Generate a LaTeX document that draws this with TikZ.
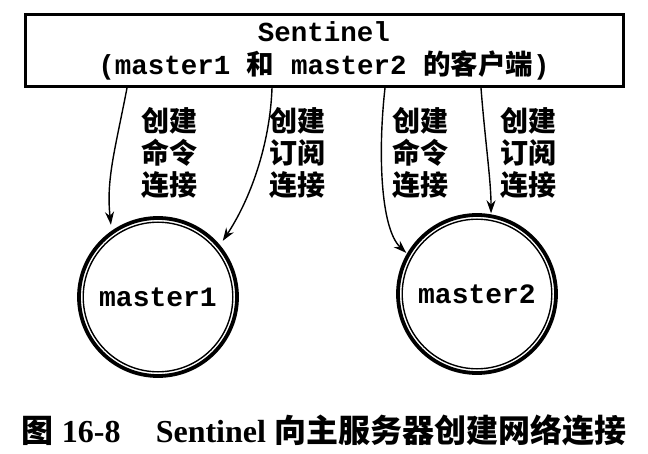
\documentclass[tikz,border=0pt]{standalone}
\usepackage{fontspec}
\setmainfont{Liberation Serif}
\setmonofont{Liberation Mono}
\newfontfamily\cjk{Noto Sans CJK SC}
\usetikzlibrary{arrows.meta}
\begin{document}
\begin{tikzpicture}[x=1pt,y=-1pt,
  boxstyle/.style={draw, line width=3pt, minimum width=598pt, minimum height=72pt, inner sep=0pt, align=center,
    font=\fontsize{27.5}{33}\selectfont\ttfamily\bfseries},
  masterstyle/.style={circle, draw, line width=3.8pt, minimum size=158pt, inner sep=0pt,
    font=\fontsize{28}{33}\selectfont\ttfamily\bfseries},
  innerring/.style={line width=1.4pt},
  labstyle/.style={align=center, inner sep=0pt, font=\fontsize{28}{32}\selectfont\cjk\bfseries},
  arrstyle/.style={line width=1.4pt, -{Stealth[length=13pt,width=9pt]}},
  capstyle/.style={inner sep=0pt, font=\fontsize{32}{36}\selectfont\bfseries}
]
\useasboundingbox (0,0) rectangle (648,454);

\node[boxstyle] (box) at (324,51) {Sentinel\\({}master1 {\cjk\bfseries 和} master2 {\cjk\bfseries 的客户端})};

\node[masterstyle] (m1) at (158,297) {master1};
\draw[innerring] (m1.center) circle (74.8pt);
\node[masterstyle] (m2) at (477,294) {master2};
\draw[innerring] (m2.center) circle (74.8pt);

\coordinate (s1) at (127,88);
\coordinate (s2) at (272,88);
\coordinate (s3) at (385,88);
\coordinate (s4) at (481,88);

\draw[arrstyle, shorten >=6pt] (s1) .. controls (115,150) and (106,180) .. (m1.125);
\draw[arrstyle, shorten >=5pt] (s2) .. controls (270,145) and (250,200) .. (m1.40);
\draw[arrstyle, shorten >=1pt] (s3) .. controls (378,150) and (380,228) .. (m2.150);
\draw[arrstyle, shorten >=1pt] (s4) .. controls (485,140) and (491,180) .. (m2.80);

\node[labstyle] (l1) at (169,153) {创建\\命令\\连接};
\node[labstyle] (l2) at (297,153) {创建\\订阅\\连接};
\node[labstyle] (l3) at (420,153) {创建\\命令\\连接};
\node[labstyle] (l4) at (528,153) {创建\\订阅\\连接};

\node[capstyle] (caption) at (324,430) {{\cjk 图} 16-8\hspace{1.1em}Sentinel {\cjk 向主服务器创建网络连接}};
\end{tikzpicture}
\end{document}
